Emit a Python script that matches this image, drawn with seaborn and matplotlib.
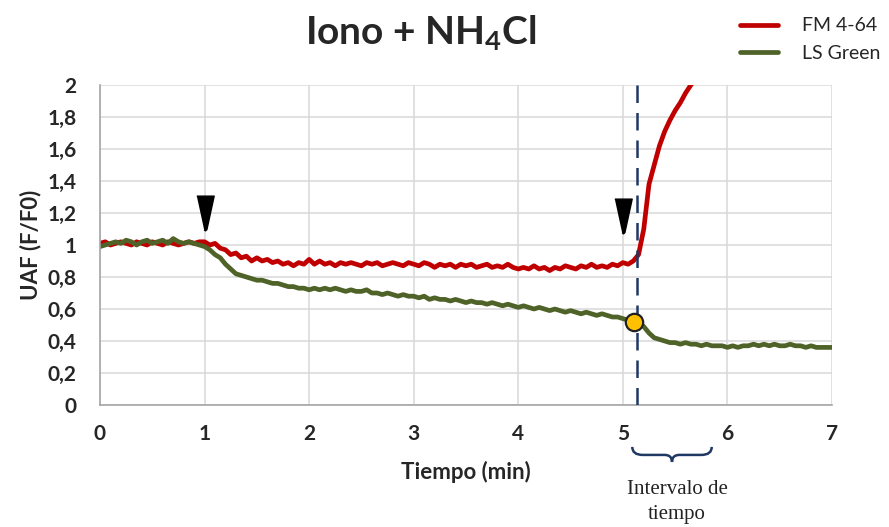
import numpy as np
import pandas as pd
import matplotlib
matplotlib.use("Agg")
import matplotlib.pyplot as plt
import matplotlib.transforms as mtransforms
from matplotlib.path import Path
from matplotlib.patches import PathPatch
import seaborn as sns

# time step 0.05 min
step = 0.05
ls_green = [
    0.99, 1.00, 1.01, 1.02, 1.01, 1.03, 1.02, 1.00, 1.02, 1.03, 1.01, 1.02, 1.03, 1.01, 1.04, 1.02, 1.01, 1.02, 1.01, 1.00,
    0.99, 0.97, 0.94, 0.92, 0.88, 0.85, 0.82, 0.81, 0.80, 0.79, 0.78, 0.78, 0.77, 0.76, 0.76, 0.75, 0.74, 0.74, 0.73, 0.73,
    0.72, 0.73, 0.72, 0.73, 0.72, 0.73, 0.72, 0.71, 0.72, 0.71, 0.71, 0.72, 0.70, 0.70, 0.69, 0.70, 0.69, 0.68, 0.69, 0.68,
    0.68, 0.67, 0.68, 0.66, 0.67, 0.66, 0.66, 0.65, 0.66, 0.65, 0.64, 0.65, 0.64, 0.64, 0.63, 0.64, 0.63, 0.62, 0.63, 0.62,
    0.61, 0.62, 0.61, 0.60, 0.61, 0.60, 0.59, 0.60, 0.59, 0.58, 0.59, 0.58, 0.57, 0.58, 0.57, 0.56, 0.57, 0.56, 0.55, 0.55,
    0.54, 0.53, 0.52, 0.52, 0.49, 0.45, 0.42, 0.41, 0.40, 0.39, 0.39, 0.38, 0.39, 0.38, 0.38, 0.37, 0.38, 0.37, 0.37, 0.37,
    0.36, 0.37, 0.36, 0.37, 0.37, 0.38, 0.37, 0.38, 0.37, 0.38, 0.37, 0.37, 0.38, 0.37, 0.37, 0.36, 0.37, 0.36, 0.36, 0.36, 0.36,
]
fm_464 = [
    1.01, 1.02, 1.00, 1.01, 1.02, 1.01, 1.00, 1.02, 1.01, 1.00, 1.02, 1.01, 1.00, 1.02, 1.01, 1.00, 1.01, 1.02, 1.01, 1.02,
    1.02, 1.00, 1.01, 0.98, 0.97, 0.94, 0.95, 0.92, 0.93, 0.90, 0.92, 0.90, 0.91, 0.89, 0.90, 0.88, 0.89, 0.87, 0.89, 0.88,
    0.91, 0.88, 0.90, 0.88, 0.89, 0.87, 0.89, 0.88, 0.89, 0.88, 0.87, 0.89, 0.88, 0.89, 0.87, 0.88, 0.89, 0.88, 0.87, 0.89,
    0.88, 0.87, 0.89, 0.88, 0.86, 0.88, 0.87, 0.88, 0.86, 0.88, 0.87, 0.88, 0.86, 0.87, 0.88, 0.86, 0.87, 0.86, 0.88, 0.86,
    0.85, 0.86, 0.85, 0.87, 0.85, 0.86, 0.84, 0.86, 0.85, 0.87, 0.86, 0.85, 0.87, 0.86, 0.88, 0.86, 0.87, 0.86, 0.88, 0.87,
    0.89, 0.88, 0.90, 0.94, 1.10, 1.38, 1.50, 1.62, 1.71, 1.78, 1.84, 1.89, 1.95, 2.00, 2.04,
]
arrow_t = [1.0, 5.0]
arrow_y = [1.20, 1.18]
event_t = 5.14
point_t = [5.105]
point_y = [0.52]
x_ticks = [0, 1, 2, 3, 4, 5, 6, 7]
y_ticks = [0, 0.2, 0.4, 0.6, 0.8, 1.0, 1.2, 1.4, 1.6, 1.8, 2.0]

t_green = np.arange(len(ls_green)) * step
t_red = np.arange(len(fm_464)) * step
df_g = pd.DataFrame({"t": t_green, "v": ls_green})
df_r = pd.DataFrame({"t": t_red, "v": fm_464})

sns.set_style("white")
plt.rcParams["font.family"] = ["Lato", "DejaVu Sans"]
plt.rcParams["mathtext.fontset"] = "custom"
plt.rcParams["mathtext.bf"] = "Lato:bold"
plt.rcParams["mathtext.rm"] = "Lato"

fig = plt.figure(figsize=(8.89, 5.27), dpi=100)
ax = fig.add_axes([100 / 889, 1 - 405 / 527, 732 / 889, 320 / 527])

red = "#C00000"
green = "#4F6228"
sns.lineplot(data=df_r, x="t", y="v", color=red, lw=3.4, ax=ax, label="FM 4-64")
sns.lineplot(data=df_g, x="t", y="v", color=green, lw=3.4, ax=ax, label="LS Green")

ax.axvline(event_t, color="#1F3864", lw=1.8, dashes=(7, 4), zorder=4)
ax.plot(point_t, point_y, "o", ms=12.5, mfc="#FFC000", mec="#222222", mew=1.6, zorder=5)

tri = [(-0.5, 1.0), (0.5, 1.0), (0.08, -0.93), (0.0, -1.0), (-0.08, -0.93)]
ax.scatter(arrow_t, arrow_y, marker=tri, s=25 ** 2, color="black", zorder=5)

ax.set_xlim(0, 7)
ax.set_ylim(0, 2)
ax.set_xticks(x_ticks)
ax.set_yticks(y_ticks)
ax.set_yticklabels([("%g" % v).replace(".", ",") for v in y_ticks])
ax.grid(True, color="#D9D9D9", lw=1.1)
ax.set_axisbelow(True)
for s in ["top", "right"]:
    ax.spines[s].set_visible(False)
for s in ["left", "bottom"]:
    ax.spines[s].set_color("#A6A6A6")
    ax.spines[s].set_linewidth(1.2)
ax.tick_params(length=0, labelsize=15)
ax.tick_params(axis="x", pad=14)
ax.tick_params(axis="y", pad=17)
for lab in ax.get_xticklabels() + ax.get_yticklabels():
    lab.set_fontweight("bold")
ax.set_xlabel("Tiempo (min)", fontsize=16, fontweight="bold", labelpad=12)
ax.set_ylabel("UAF (F/F0)", fontsize=16, fontweight="bold", labelpad=4)

handles, labels = ax.get_legend_handles_labels()
ax.get_legend().remove()
fig.legend(handles, labels, loc="upper left", bbox_to_anchor=(722 / 889, 1.0),
           frameon=False, fontsize=14, handlelength=2.0, handletextpad=1.2,
           labelspacing=0.55)

fig.text(421 / 889, 1 - 33 / 527, r"Iono + NH$_\mathbf{4}$Cl", fontsize=28,
         fontweight="bold", ha="center", va="center")

# brace under the axis between 5 and 6
trans = mtransforms.blended_transform_factory(ax.transData, ax.transAxes)
y0, y1, y2 = -0.131, -0.156, -0.178
verts = [(5.09, y0), (5.09, y1), (5.19, y1), (5.40, y1), (5.47, y1), (5.47, y2),
         (5.47, y1), (5.54, y1), (5.75, y1), (5.85, y1), (5.85, y0)]
codes = [Path.MOVETO, Path.CURVE3, Path.CURVE3, Path.LINETO, Path.CURVE3, Path.CURVE3,
         Path.CURVE3, Path.CURVE3, Path.LINETO, Path.CURVE3, Path.CURVE3]
ax.add_patch(PathPatch(Path(verts, codes), transform=trans, fill=False,
                       edgecolor="#1F3864", lw=1.8, clip_on=False))
fig.text(677 / 889, 1 - 502 / 527, "Intervalo de\ntiempo", fontsize=15,
         family="Liberation Serif", ha="center", va="center", linespacing=1.5,
         color="#222222")

fig.savefig("out.png", dpi=100)
